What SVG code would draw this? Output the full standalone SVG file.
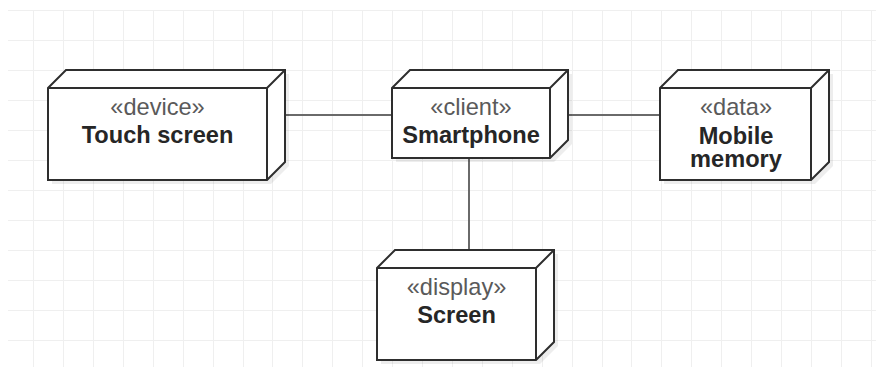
<svg xmlns="http://www.w3.org/2000/svg" width="876" height="367" viewBox="0 0 876 367">
<style>
.grid{stroke:#efefef;stroke-width:1;fill:none}
.shadow{fill:#000;fill-opacity:0.07;stroke:none}
.box{fill:#fff;stroke:#2e2e2e;stroke-width:2;stroke-linejoin:miter}
.edge{fill:none;stroke:#2e2e2e;stroke-width:2}
.conn{fill:none;stroke:#6a6a6a;stroke-width:2}
.st{font-family:"Liberation Sans",Arial,sans-serif;font-size:23.6px;fill:#5a5a5a;text-anchor:middle}
.nm{font-family:"Liberation Sans",Arial,sans-serif;font-size:23.6px;font-weight:bold;fill:#262626;text-anchor:middle}
</style>
<rect width="876" height="367" fill="#fff"/>
<path class="grid" d="M8 10.5H876M8 40.5H876M8 70.5H876M8 100.5H876M8 130.5H876M8 160.5H876M8 190.5H876M8 220.5H876M8 250.5H876M8 280.5H876M8 310.5H876M8 340.5H876
M33.5 10V367M63.5 10V367M93.5 10V367M123.5 10V367M153.5 10V367M183.5 10V367M213.5 10V367M243.5 10V367M272.5 10V367M302.5 10V367M332.5 10V367M362.5 10V367M392.5 10V367M422.5 10V367M452.5 10V367M482.5 10V367M512.5 10V367M542.5 10V367M572.5 10V367M602.5 10V367M631.5 10V367M661.5 10V367M691.5 10V367M721.5 10V367M751.5 10V367M781.5 10V367M811.5 10V367M841.5 10V367M871.5 10V367"/>
<g id="connectors">
<path class="conn" d="M286 115H392"/>
<path class="conn" d="M568 115H660"/>
<path class="conn" d="M469 158V250"/>
</g>
<g id="touch-screen">
<path class="shadow" d="M52 92L70 74H289V166L271 184H52Z"/>
<path class="box" d="M48 88L66 70H285V162L267 180H48Z"/>
<path class="edge" d="M48 88H267L285 70M267 88V180"/>
<text class="st" x="157.5" y="115">«device»</text>
<text class="nm" x="157.5" y="143">Touch screen</text>
</g>
<g id="smartphone">
<path class="shadow" d="M396 92L414 74H572V144L554 162H396Z"/>
<path class="box" d="M392 88L410 70H568V140L550 158H392Z"/>
<path class="edge" d="M392 88H550L568 70M550 88V158"/>
<text class="st" x="471" y="115">«client»</text>
<text class="nm" x="471" y="143">Smartphone</text>
</g>
<g id="mobile-memory">
<path class="shadow" d="M664 92L682 74H833V166L815 184H664Z"/>
<path class="box" d="M660 88L678 70H829V162L811 180H660Z"/>
<path class="edge" d="M660 88H811L829 70M811 88V180"/>
<text class="st" x="736" y="115">«data»</text>
<text class="nm" x="736" y="143.5">Mobile</text>
<text class="nm" x="736" y="167">memory</text>
</g>
<g id="screen">
<path class="shadow" d="M381 272L399 254H558V346L540 364H381Z"/>
<path class="box" d="M377 268L395 250H554V342L536 360H377Z"/>
<path class="edge" d="M377 268H536L554 250M536 268V360"/>
<text class="st" x="456.5" y="295">«display»</text>
<text class="nm" x="456.5" y="323">Screen</text>
</g>
</svg>
